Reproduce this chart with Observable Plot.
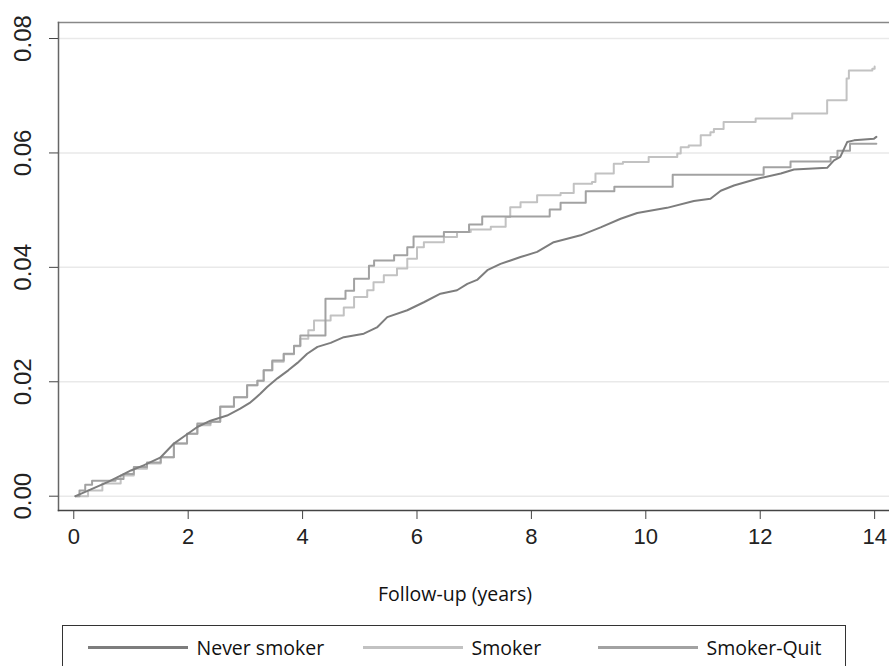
<!DOCTYPE html>
<html><head><meta charset="utf-8">
<script src="https://cdn.jsdelivr.net/npm/d3@7"></script>
<script src="https://cdn.jsdelivr.net/npm/@observablehq/plot@0.6"></script>
<style>
body{margin:0;background:#fff;}
#wrap{position:relative;width:889px;height:666px;overflow:hidden;background:#fff;}
#legend{position:absolute;left:62px;top:625px;width:784px;height:60px;border:1.5px solid #333;box-sizing:border-box;font-family:"Open Sans";font-size:19.5px;color:#111;}
.item{position:absolute;top:8px;height:27px;display:flex;align-items:center;white-space:nowrap;}
.sw{width:100px;height:2.5px;margin-right:9px;}
</style></head><body><div id="wrap"><div id="chart"></div><div id="legend"></div></div>
<script>
// Series names and colours
const groups = ["Never smoker", "Smoker", "Smoker-Quit"];
const colors = ["#7d7d7d", "#c2c2c2", "#a2a2a2"];

// Never smoker: follow-up time (years) and cumulative incidence
const neverT = [0.03,0.3,0.6,0.82,1.0,1.22,1.52,1.75,1.95,2.16,2.39,2.68,2.91,3.09,3.26,3.38,3.56,3.75,3.91,4.08,4.26,4.49,4.72,5.07,5.30,5.48,5.83,6.12,6.41,6.70,6.88,7.05,7.23,7.46,7.81,8.10,8.39,8.86,9.21,9.56,9.85,10.37,10.84,11.13,11.31,11.54,11.95,12.36,12.59,13.17,13.29,13.40,13.52,13.64,13.99,14.03];
const neverV = [0,0.0012,0.0025,0.0036,0.0045,0.0054,0.0068,0.0092,0.0106,0.0121,0.0132,0.0141,0.0153,0.0164,0.0179,0.0191,0.0206,0.0220,0.0233,0.0249,0.0261,0.0268,0.0278,0.0284,0.0295,0.0313,0.0325,0.0339,0.0354,0.0360,0.0371,0.0378,0.0395,0.0406,0.0418,0.0427,0.0444,0.0456,0.0470,0.0485,0.0495,0.0504,0.0516,0.0520,0.0534,0.0543,0.0555,0.0564,0.0571,0.0574,0.0587,0.0593,0.0619,0.0622,0.0625,0.0628];

// Smoker
const smokerT = [0.03,0.25,0.5,0.82,1.05,1.28,1.52,1.75,1.98,2.16,2.39,2.56,2.80,3.03,3.21,3.32,3.47,3.67,3.85,3.96,4.10,4.20,4.49,4.72,4.90,5.13,5.24,5.42,5.65,5.83,6.00,6.12,6.47,6.70,6.94,7.29,7.55,7.63,7.81,8.10,8.51,8.74,9.06,9.12,9.44,9.60,10.05,10.55,10.61,10.75,10.96,11.13,11.19,11.36,11.92,12.56,13.17,13.51,13.55,13.96,14.00];
const smokerV = [0,0.0010,0.0022,0.0036,0.0048,0.0057,0.0068,0.0092,0.0109,0.0124,0.0130,0.0156,0.0173,0.0194,0.0202,0.0220,0.0235,0.0248,0.0262,0.0275,0.0290,0.0307,0.0316,0.0330,0.0348,0.0360,0.0374,0.0386,0.0398,0.0415,0.0435,0.0444,0.0453,0.0462,0.0466,0.0471,0.0488,0.0505,0.0514,0.0526,0.0530,0.0546,0.0549,0.0564,0.0581,0.0584,0.0593,0.0599,0.0610,0.0613,0.0631,0.0636,0.0642,0.0654,0.0660,0.0669,0.0692,0.0730,0.0744,0.0747,0.0751];

// Smoker-Quit
const quitT = [0.03,0.1,0.2,0.32,0.73,0.87,1.05,1.28,1.52,1.75,1.98,2.16,2.39,2.56,2.80,3.03,3.21,3.32,3.47,3.67,3.85,3.96,4.40,4.75,4.90,5.16,5.25,5.60,5.83,5.94,6.47,6.91,7.14,8.32,8.51,8.95,9.45,10.47,12.06,12.53,13.23,13.35,13.57,14.03];
const quitV = [0,0.0010,0.0020,0.0027,0.0030,0.0039,0.0051,0.0059,0.0068,0.0092,0.0109,0.0127,0.0130,0.0157,0.0173,0.0194,0.0202,0.0220,0.0237,0.0249,0.0263,0.0281,0.0345,0.0359,0.0380,0.0403,0.0412,0.0421,0.0435,0.0454,0.0462,0.0475,0.0489,0.0501,0.0513,0.0533,0.0541,0.0562,0.0575,0.0585,0.0593,0.0604,0.0616,0.0616];

// Axis ticks
const xTicks = [0,2,4,6,8,10,12,14];
const yTicks = [0,0.02,0.04,0.06,0.08];
const yTickLabels = ["0.00","0.02","0.04","0.06","0.08"];
const xLabel = "Follow-up (years)";

const seriesT = [neverT, smokerT, quitT];
const seriesV = [neverV, smokerV, quitV];
const rows = (i) => seriesT[i].map((t, j) => ({group: groups[i], t, v: seriesV[i][j]}));

const chart = Plot.plot({
  width: 889,
  height: 620,
  marginLeft: 58,
  marginRight: 0,
  marginTop: 22,
  marginBottom: 110,
  style: {fontFamily: "'Liberation Sans', Arial, sans-serif", background: "#fff", color: "#222"},
  x: {domain: [-0.267, 14.26]},
  y: {domain: [-0.0025, 0.0828]},
  color: {domain: groups, range: colors},
  marks: [
    Plot.ruleY(yTicks, {stroke: "#e9e9e9", strokeWidth: 1.5}),
    Plot.frame({anchor: "top", stroke: "#888", strokeWidth: 1.5}),
    Plot.frame({anchor: "left", stroke: "#666", strokeWidth: 1.5}),
    Plot.frame({anchor: "bottom", stroke: "#444", strokeWidth: 1.5}),
    Plot.axisY({ticks: yTicks, tickSize: 9, tickFormat: () => "", stroke: "#444", label: null}),
    Plot.text(yTicks, {y: d => d, text: (d, i) => yTickLabels[i], frameAnchor: "left", dx: -35, rotate: -90, textAnchor: "middle", lineAnchor: "middle", fontSize: 24, fill: "#222"}),
    Plot.axisX({ticks: xTicks, tickSize: 9, tickPadding: 9, fontSize: 22, stroke: "#444", fill: "#222", label: null}),
    Plot.text([xLabel], {text: d => d, frameAnchor: "bottom", dx: -19, dy: 84, lineAnchor: "middle", fontSize: 19.5, fontFamily: "Open Sans", fill: "#111"}),
    Plot.line(rows(1), {x: "t", y: "v", stroke: "group", curve: "step-after", strokeWidth: 2}),
    Plot.line(rows(2), {x: "t", y: "v", stroke: "group", curve: "step-after", strokeWidth: 2}),
    Plot.line(rows(0), {x: "t", y: "v", stroke: "group", curve: "linear", strokeWidth: 2})
  ]
});
document.getElementById("chart").appendChild(chart);

// Legend
const legend = document.getElementById("legend");
const lefts = [24.5, 299.5, 534.5];
groups.forEach((g, i) => {
  const it = document.createElement("div");
  it.className = "item";
  it.style.left = lefts[i] + "px";
  const sw = document.createElement("div");
  sw.className = "sw";
  sw.style.background = colors[i];
  const tx = document.createElement("span");
  tx.textContent = g;
  it.appendChild(sw); it.appendChild(tx);
  legend.appendChild(it);
});
</script></body></html>
